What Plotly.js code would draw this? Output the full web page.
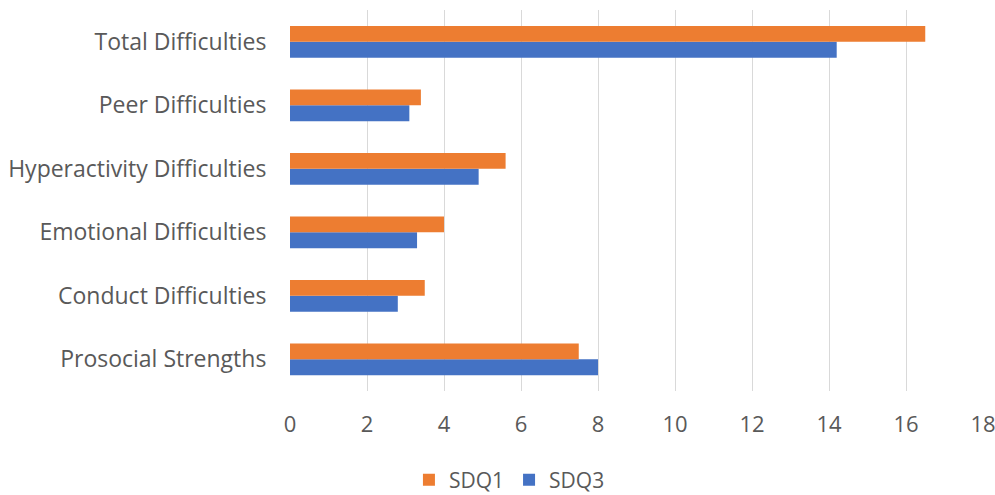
<!DOCTYPE html>
<html>
<head>
<meta charset="utf-8">
<script src="https://cdn.plot.ly/plotly-3.0.1.min.js"></script>
<style>html,body{margin:0;padding:0;background:#fff;}#chart{width:995px;height:495px;}</style>
</head>
<body>
<div id="chart"></div>
<script>
const categories = ["Prosocial Strengths", "Conduct Difficulties", "Emotional Difficulties", "Hyperactivity Difficulties", "Peer Difficulties", "Total Difficulties"];
const sdq1 = [7.5, 3.5, 4.0, 5.6, 3.4, 16.5];
const sdq3 = [8.0, 2.8, 3.3, 4.9, 3.1, 14.2];
const xTicks = [0, 2, 4, 6, 8, 10, 12, 14, 16, 18];

const fontFam = "'Open Sans', 'Liberation Sans', sans-serif";
const traces = [
  {type: 'bar', orientation: 'h', name: 'SDQ3', y: categories, x: sdq3, marker: {color: '#4472C4'}, hoverinfo: 'x+name'},
  {type: 'bar', orientation: 'h', name: 'SDQ1', y: categories, x: sdq1, marker: {color: '#ED7D31'}, hoverinfo: 'x+name'}
];
const layout = {
  width: 995, height: 495,
  margin: {l: 290, r: 12, t: 10, b: 104},
  paper_bgcolor: '#fff', plot_bgcolor: '#fff',
  barmode: 'group', bargap: 0.5, bargroupgap: 0,
  font: {family: fontFam, color: '#595959', size: 20},
  xaxis: {
    range: [0, 18], tickvals: xTicks, ticktext: xTicks.map(String),
    showgrid: true, gridcolor: '#d9d9d9', gridwidth: 1, zeroline: false,
    showline: false, ticks: 'outside', ticklen: 14, tickcolor: 'rgba(0,0,0,0)',
    ticklabeloverflow: 'allow',
    tickfont: {family: fontFam, size: 22, color: '#595959'}, fixedrange: true
  },
  yaxis: {
    showgrid: false, zeroline: false, showline: false,
    ticks: 'outside', ticklen: 18, tickcolor: 'rgba(0,0,0,0)',
    tickfont: {family: fontFam, size: 23, color: '#595959'}, fixedrange: true
  },
  showlegend: true,
  legend: {
    orientation: 'h', traceorder: 'reversed',
    xref: 'container', yref: 'container', x: 0.512, xanchor: 'center', y: 0.03, yanchor: 'middle',
    font: {family: fontFam, size: 21, color: '#595959'}, itemwidth: 30
  }
};
Plotly.newPlot('chart', traces, layout, {displayModeBar: false, staticPlot: true});
</script>
</body>
</html>
